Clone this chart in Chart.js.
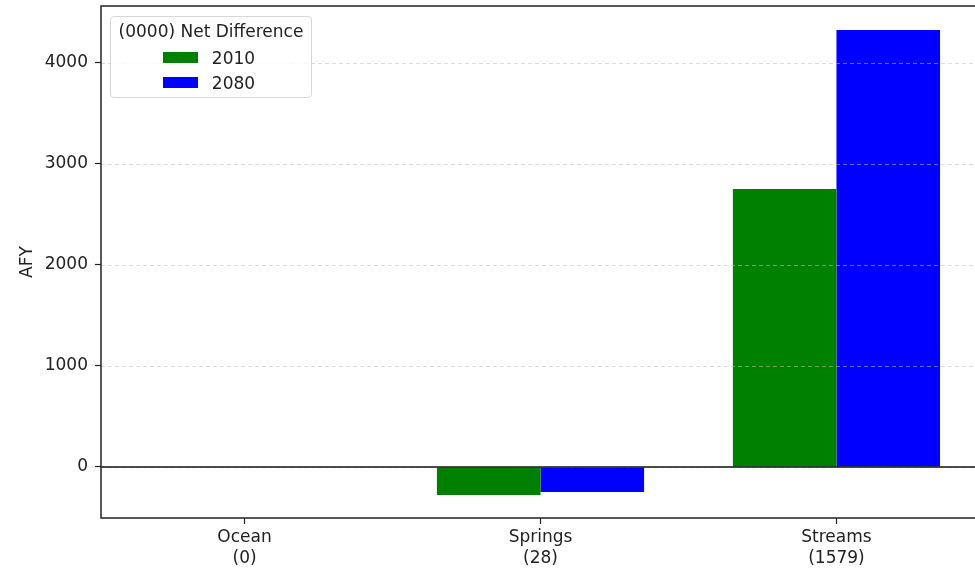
<!DOCTYPE html>
<html>
<head>
<meta charset="utf-8">
<script src="https://cdn.jsdelivr.net/npm/chart.js@4/dist/chart.umd.min.js"></script>
<style>
  html, body { margin: 0; padding: 0; background: #fff; overflow: hidden; }
  #wrap { position: relative; width: 990px; height: 572px; }
  #legend {
    position: absolute; left: 110px; top: 16px; width: 202px; height: 82px;
    border: 1px solid #d8d8d8; border-radius: 4px; background: rgba(255,255,255,0.85);
    font-family: "DejaVu Sans", sans-serif; font-size: 17px; color: #222;
    display: flex; flex-direction: column; align-items: center; box-sizing: border-box;
    padding-top: 0px;
  }
  #legend .item { display: flex; align-items: center; height: 25px; margin-left: -4px; }
  #legend .swatch { width: 35px; height: 11px; margin-right: 14px; }
</style>
</head>
<body>
<div id="wrap">
  <canvas id="chart" width="990" height="572"></canvas>
  <div id="legend"></div>
</div>
<script>
// --- data ---
const categories = ['Ocean', 'Springs', 'Streams'];
const categoryCounts = [0, 28, 1579];
const values2010 = [0, -277, 2752];
const values2080 = [0, -248, 4327];
const seriesNames = ['2010', '2080'];
const seriesColors = ['#008000', '#0000ff'];
const yTicks = [0, 1000, 2000, 3000, 4000];
const legendTitle = '(0000) Net Difference';

const FONT = '"DejaVu Sans", sans-serif';
const TEXT = '#222';

// dashed grid (over the bars, like the original), zero line and the box round the plot
const framePlugin = {
    id: 'frame',
    afterDatasetsDraw(chart) {
        const { ctx, chartArea: a, scales } = chart;
        ctx.save();
        ctx.strokeStyle = 'rgba(190,190,190,0.6)';
        ctx.lineWidth = 0.9;
        ctx.setLineDash([4, 3]);
        yTicks.forEach(v => {
            const py = Math.round(scales.y.getPixelForValue(v)) + 0.5;
            ctx.beginPath();
            ctx.moveTo(a.left, py);
            ctx.lineTo(a.right, py);
            ctx.stroke();
        });
        ctx.setLineDash([]);
        const y0 = scales.y.getPixelForValue(0);
        ctx.strokeStyle = '#111';
        ctx.lineWidth = 1.6;
        ctx.beginPath();
        ctx.moveTo(a.left, y0);
        ctx.lineTo(a.right, y0);
        ctx.stroke();
        ctx.strokeStyle = '#222';
        ctx.lineWidth = 1.5;
        ctx.strokeRect(a.left, a.top, a.right - a.left, a.bottom - a.top);
        ctx.restore();
    }
};

const datasets = [values2010, values2080].map((vals, i) => ({
    label: seriesNames[i],
    data: vals.map((v, j) => ({ x: j, y: v })),
    backgroundColor: seriesColors[i],
    borderWidth: 0,
    categoryPercentage: 0.7,
    barPercentage: 1.0
}));

new Chart(document.getElementById('chart'), {
    type: 'bar',
    data: { datasets: datasets },
    plugins: [framePlugin],
    options: {
        responsive: false,
        animation: false,
        devicePixelRatio: 1,
        layout: { padding: { top: 6, right: 10, left: 0, bottom: 0 } },
        plugins: {
            legend: { display: false },
            tooltip: { enabled: false },
            title: { display: false }
        },
        scales: {
            x: {
                type: 'linear',
                min: -0.485,
                max: 2.485,
                offset: false,
                afterBuildTicks: (s) => { s.ticks = categories.map((c, i) => ({ value: i })); },
                afterFit: (s) => { s.height = 54; s.paddingLeft = 0; s.paddingRight = 0; },
                border: { display: false },
                grid: {
                    offset: false,
                    drawOnChartArea: false,
                    drawTicks: true,
                    tickLength: 6,
                    tickColor: '#222',
                    tickWidth: 1.2
                },
                ticks: {
                    autoSkip: false,
                    maxRotation: 0,
                    padding: 3,
                    color: TEXT,
                    font: { family: FONT, size: 17, lineHeight: 1.25 },
                    callback: (v) => [categories[v], '(' + categoryCounts[v] + ')']
                }
            },
            y: {
                min: -505,
                max: 4564,
                afterBuildTicks: (s) => { s.ticks = yTicks.map(v => ({ value: v })); },
                afterFit: (s) => { s.width = 101; s.paddingTop = 0; s.paddingBottom = 0; },
                border: { display: false },
                grid: {
                    drawOnChartArea: false,
                    tickLength: 6,
                    tickColor: '#222',
                    tickWidth: 1.2
                },
                title: {
                    display: true,
                    text: 'AFY',
                    color: TEXT,
                    font: { family: FONT, size: 17 },
                    padding: { top: 17, bottom: 4 }
                },
                ticks: {
                    padding: 7,
                    color: TEXT,
                    font: { family: FONT, size: 17 },
                    callback: (v) => String(v)
                }
            }
        }
    }
});

// legend box in the upper left, built from the series arrays
const legendEl = document.getElementById('legend');
let legendHTML = `<div style="height:28px; line-height:28px;">${legendTitle}</div>`;
seriesNames.forEach((name, i) => {
    legendHTML += `<div class="item"><span class="swatch" style="background:${seriesColors[i]}"></span><span>${name}</span></div>`;
});
legendEl.innerHTML = legendHTML;
</script>
</body>
</html>
